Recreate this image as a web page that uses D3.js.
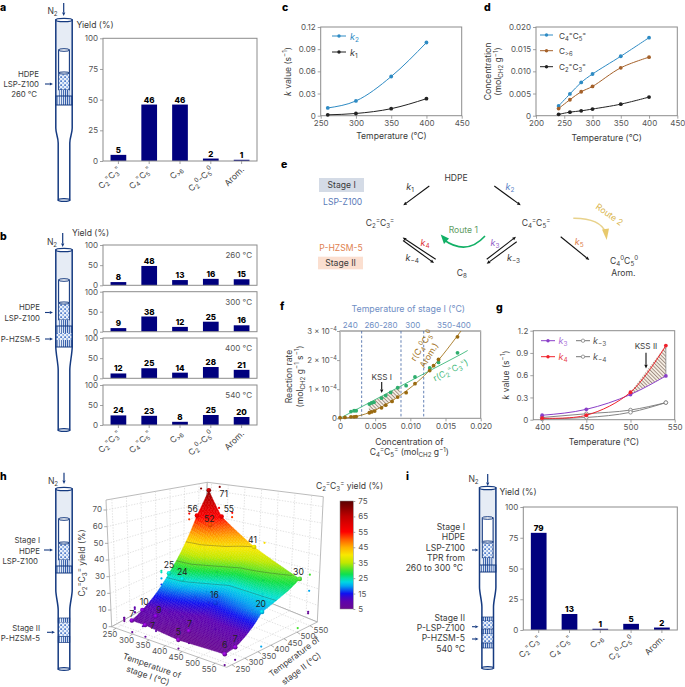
<!DOCTYPE html>
<html><head><meta charset="utf-8">
<script src="https://cdn.jsdelivr.net/npm/d3@7"></script>
<style>html,body{margin:0;padding:0;background:#fff}svg{display:block}text{font-family:Inter,"Liberation Sans",sans-serif}</style>
</head><body><svg id="c" width="685" height="687" xmlns="http://www.w3.org/2000/svg"></svg>
<script>
// ---------- data ----------
const productLabels=["C_{2}^{=}C_{3}^{=}","C_{4}^{=}C_{5}^{=}","C_{>6}","C_{2}^{0}-C_{5}^{0}","Arom."];
const yieldA=[5,46,46,2,1];
const yieldB260=[8,48,13,16,15];
const yieldB300=[9,38,12,25,16];
const yieldB400=[12,25,14,28,21];
const yieldB540=[24,23,8,25,20];
const yieldI=[79,13,1,5,2];
const tempsC=[260,300,350,400];
const k1C=[0.0012,0.003,0.0095,0.023];
const k2C=[0.0105,0.020,0.053,0.099];
const tempsD=[240,260,280,300,350,400];
const concC4C5=[0.0022,0.0049,0.0075,0.0094,0.0134,0.0176];
const concC6=[0.0016,0.0036,0.0054,0.0066,0.0108,0.0132];
const concC2C3=[0.0003,0.0008,0.0011,0.0015,0.0026,0.0042];
const fX=[0.00156,0.002,0.0023,0.00417,0.0045,0.00483,0.0059,0.0065,0.0072,0.0082,0.0094,0.01066,0.01275,0.014,0.0167];
const fGreen=[0.23,0.26,0.26,0.49,0.53,0.55,0.69,0.78,0.89,1.05,1.12,1.42,1.73,1.92,2.25];
const fBrownX=[0,0.0007,0.00156,0.002,0.0023,0.00417,0.0045,0.00493,0.0059,0.0065,0.0074,0.0082,0.0094,0.01066,0.01275,0.0133,0.014,0.0167];
const fBrown=[0.02,0.03,0.05,0.05,0.06,0.19,0.22,0.25,0.36,0.45,0.58,0.73,0.88,1.19,1.64,1.81,2.02,2.8];
const fitX=[0,0.002,0.0042,0.006,0.0085,0.012,0.0172];
const fitBrown=[0,0.05,0.2,0.4,0.78,1.47,3.0];
const fitGreen=[0,0.26,0.54,0.77,1.09,1.54,2.2];
const stageBoundaries=[0.00308,0.00867,0.0119];
const tempsG=[400,450,500,540];
const k3G=[0.06,0.14,0.34,0.59];
const k4G=[0.02,0.06,0.37,1.0];
const km3G=[0.03,0.08,0.13,0.23];
const km4G=[0.01,0.03,0.10,0.23];
const stage1Temps=[260,300,400,540];
const stage2Temps=[260,300,400,500,540];
const surfaceRows=[[7,7,5,6],[10,9,7,7],[25,24,16,20],[56,52,33,26],[71,55,41,30]];
const pointI=[260,300,400,540,260,300,400,540,260,300,400,540,260,300,260,300,400,540];
const pointII=[260,260,260,260,300,300,300,300,400,400,400,400,500,500,540,540,540,540];
const pointY=[7,7,5,6,10,9,7,7,25,24,16,20,56,52,71,55,41,30];
const labelDX=[0,7.7,0,0,1.7,3.3,.7,0,0,0,-1,-1.3,-4.3,-1,15,7.3,-1.7,-1.3];
const labelDY=[-6,1.3,-8,-9,-7.7,-6.7,-7.3,-8.3,-8.3,-7.3,-7.7,-7.7,-6.3,-6,3.7,-7.7,-6.7,-7];

// ---------- helpers ----------
const NAVY="#00007e",TUBE="#153a80",INK="#3a3a3a",SPINE="#8c8c8c",BASE=8.6,SIDE=7.8;
const svg=d3.select("#c");
const defs=svg.append("defs");
const pd=defs.append("pattern").attr("id","dots").attr("width",4).attr("height",4).attr("patternUnits","userSpaceOnUse");
pd.append("rect").attr("width",4).attr("height",4).attr("fill","#eaf0fa");
pd.append("circle").attr("cx",1.1).attr("cy",1.1).attr("r",.95).attr("fill","#2c62c0");
pd.append("circle").attr("cx",3.1).attr("cy",3).attr("r",.8).attr("fill","#3f78d0");
const ps=defs.append("pattern").attr("id","stripes").attr("width",2.1).attr("height",4).attr("patternUnits","userSpaceOnUse");
ps.append("rect").attr("width",2.1).attr("height",4).attr("fill","#e8eff9");
ps.append("rect").attr("width",.9).attr("height",4).attr("fill","#2a55a5");
const ph=defs.append("pattern").attr("id","hatch").attr("width",2.6).attr("height",2.6).attr("patternUnits","userSpaceOnUse").attr("patternTransform","rotate(-45)");
ph.append("rect").attr("width",2.6).attr("height",2.6).attr("fill","#f4ece2");
ph.append("rect").attr("width",.8).attr("height",2.6).attr("fill","#958378");

function rich(t,str,fs){
  const re=/(_\{[^}]*\}|\^\{[^}]*\}|\*[^*]*\*)/;
  let off=0;
  str.split(re).filter(s=>s!=="").forEach(s=>{
    const ts=t.append("tspan");
    let tgt=0,body=s;
    if(s.startsWith("_{")){tgt=fs*.25;body=s.slice(2,-1);ts.attr("font-size",fs*.72);}
    else if(s.startsWith("^{")){tgt=-fs*.38;body=s.slice(2,-1);ts.attr("font-size",fs*.72);}
    else if(s.startsWith("*")){body=s.slice(1,-1);ts.attr("font-style","italic");}
    ts.attr("dy",tgt-off);off=tgt;ts.text(body);
  });
}
function txt(x,y,str,o={}){
  const fs=o.size||BASE;
  const t=svg.append("text").attr("x",0).attr("y",0).attr("font-size",fs)
   .attr("text-anchor",o.anchor||"middle").attr("fill",o.fill||INK)
   .attr("font-weight",o.weight||400)
   .attr("transform",`translate(${x},${y})`+(o.rot?` rotate(${o.rot})`:""));
  rich(t,str,fs);return t;
}
function arrow(x1,y1,x2,y2,col=INK,w=1.1,h=3.6){
  const a=Math.atan2(y2-y1,x2-x1),bx=x2-h*Math.cos(a),by=y2-h*Math.sin(a);
  svg.append("line").attr("x1",x1).attr("y1",y1).attr("x2",bx).attr("y2",by).attr("stroke",col).attr("stroke-width",w);
  const p=(r,an)=>[x2-r*Math.cos(a+an),y2-r*Math.sin(a+an)];
  svg.append("polygon").attr("points",[[x2,y2],p(h*1.1,.42),p(h*1.1,-.42)].join(" ")).attr("fill",col);
}
function styleAxis(g,col="#555"){
  g.select(".domain").remove();
  g.selectAll(".tick line").attr("stroke",SPINE).attr("stroke-width",.8);
  g.selectAll(".tick text").attr("fill",col).attr("font-size",8).attr("font-family","Inter");
}
function frame(x0,x1,yt,yb,w=1){
  svg.append("rect").attr("x",x0).attr("y",yt).attr("width",x1-x0).attr("height",yb-yt)
   .attr("fill","none").attr("stroke",SPINE).attr("stroke-width",w);
}
function letter(s,x,y){txt(x,y,s,{size:10.5,weight:800,anchor:"start",fill:"#000"});}

function tube(o){
  const g=svg.append("g");
  const cx=o.cx,W=o.W||8.2,N=o.N||5.8,IW=5.4;
  const path=d3.path();
  path.moveTo(cx-W,o.top);path.lineTo(cx-W,o.neckA);
  path.bezierCurveTo(cx-W,o.neckA+6,cx-N,o.neckB-6,cx-N,o.neckB);
  path.lineTo(cx-N,o.bottom);path.lineTo(cx+N,o.bottom);path.lineTo(cx+N,o.neckB);
  path.bezierCurveTo(cx+N,o.neckB-6,cx+W,o.neckA+6,cx+W,o.neckA);
  path.lineTo(cx+W,o.top);path.closePath();
  g.append("path").attr("d",path.toString()).attr("fill","#fff");
  g.append("rect").attr("x",cx-W).attr("y",o.top).attr("width",2*W).attr("height",o.fritBot-o.top).attr("fill","#e6ecf5");
  g.append("rect").attr("x",cx-IW).attr("y",o.innerTop).attr("width",2*IW).attr("height",o.catTop-o.innerTop).attr("fill","#fff").attr("stroke",TUBE).attr("stroke-width",1.1);
  g.append("ellipse").attr("cx",cx).attr("cy",o.innerTop).attr("rx",IW).attr("ry",1.3).attr("fill","#fff").attr("stroke",TUBE).attr("stroke-width",1);
  g.append("rect").attr("x",cx-IW).attr("y",o.catTop).attr("width",2*IW).attr("height",o.catBot-o.catTop).attr("fill","url(#dots)").attr("stroke",TUBE).attr("stroke-width",.9);
  g.append("ellipse").attr("cx",cx).attr("cy",o.catTop).attr("rx",IW).attr("ry",1.1).attr("fill","#e6ecf5").attr("stroke",TUBE).attr("stroke-width",.9);
  g.append("rect").attr("x",cx-IW).attr("y",o.catBot).attr("width",2*IW).attr("height",o.ringTop-o.catBot).attr("fill","url(#stripes)");
  g.append("rect").attr("x",cx-W).attr("y",o.ringTop).attr("width",2*W).attr("height",o.fritBot-o.ringTop).attr("fill","url(#stripes)").attr("stroke",TUBE).attr("stroke-width",1);
  (o.beds||[]).forEach(b=>{
    const hw=b.hw||W;
    g.append("rect").attr("x",cx-hw).attr("y",b.y).attr("width",2*hw).attr("height",b.h).attr("fill",`url(#${b.k==="d"?"dots":"stripes"})`).attr("stroke",b.k==="d"?"none":TUBE).attr("stroke-width",.7);
  });
  g.append("path").attr("d",path.toString()).attr("fill","none").attr("stroke",TUBE).attr("stroke-width",1.5);
  g.append("ellipse").attr("cx",cx).attr("cy",o.top).attr("rx",W).attr("ry",1.7).attr("fill","#fff").attr("stroke",TUBE).attr("stroke-width",1.3);
  g.append("ellipse").attr("cx",cx).attr("cy",o.bottom).attr("rx",N).attr("ry",1.4).attr("fill","#e6ecf5").attr("stroke",TUBE).attr("stroke-width",1.2);
}
function leftArrow(x1,x2,y){arrow(x1,y,x2,y,TUBE,1.1,3.2);}

function bars(values,x0,x1,yt,yb,showCats,yTicks,labSize){
  const b=d3.scaleBand().domain(d3.range(values.length)).range([x0,x1]).paddingInner(.49).paddingOuter(.245);
  const y=d3.scaleLinear().domain([0,100]).range([yb,yt]);
  svg.append("g").selectAll("rect").data(values).join("rect").attr("x",(d,i)=>b(i)).attr("y",d=>y(d)).attr("width",b.bandwidth()).attr("height",d=>yb-y(d)).attr("fill",NAVY);
  svg.append("g").selectAll("text").data(values).join("text").attr("x",(d,i)=>b(i)+b.bandwidth()/2).attr("y",d=>y(d)-2).attr("text-anchor","middle").attr("font-size",labSize||8).attr("font-weight",800).attr("fill","#000").text(d=>d);
  frame(x0,x1,yt,yb);
  const ax=svg.append("g").attr("transform",`translate(${x0},0)`).call(d3.axisLeft(y).tickValues(yTicks).tickSize(3).tickPadding(2));
  styleAxis(ax);ax.selectAll(".tick text").attr("font-size",8);
  if(showCats){
    const bx=svg.append("g").attr("transform",`translate(0,${yb})`).call(d3.axisBottom(b).tickFormat("").tickSize(3));
    styleAxis(bx);
    productLabels.forEach((s,i)=>txt(b(i)+b.bandwidth()/2+3,yb+9,s,{size:8.4,anchor:"end",rot:-45}));
  }
}
function lineChart(o){
  const x=d3.scaleLinear().domain(o.xd).range(o.xr),y=d3.scaleLinear().domain(o.yd).range(o.yr);
  frame(o.xr[0],o.xr[1],o.yr[1],o.yr[0]);
  const ax=svg.append("g").attr("transform",`translate(0,${o.yr[0]})`).call(d3.axisBottom(x).tickValues(o.xt).tickSize(3).tickPadding(2).tickFormat(o.xf||(d=>d)));
  styleAxis(ax);
  const ay=svg.append("g").attr("transform",`translate(${o.xr[0]},0)`).call(d3.axisLeft(y).tickValues(o.yt).tickSize(3).tickPadding(2).tickFormat(o.yf||(d=>d)));
  styleAxis(ay);
  return {x,y};
}
function series(x,y,xs,ys,col,curve,sym="circle",r=1.9,w=1){
  const l=d3.line().x((d,i)=>x(xs[i])).y(d=>y(d)).curve(curve);
  svg.append("path").attr("d",l(ys)).attr("fill","none").attr("stroke",col).attr("stroke-width",w);
  svg.append("g").selectAll("circle").data(ys).join("circle").attr("cx",(d,i)=>x(xs[i])).attr("cy",d=>y(d)).attr("r",r).attr("fill",sym==="open"?"#fff":col).attr("stroke",sym==="open"?col:"none").attr("stroke-width",.8);
}
function legendItem(x1,x2,y,col,open){
  svg.append("line").attr("x1",x1).attr("x2",x2).attr("y1",y).attr("y2",y).attr("stroke",col).attr("stroke-width",1);
  svg.append("circle").attr("cx",(x1+x2)/2).attr("cy",y).attr("r",1.7).attr("fill",open?"#fff":col).attr("stroke",open?col:"none").attr("stroke-width",.7);
}

// ---------- panel a ----------
letter("a",0,10.5);
tube({cx:64,top:20,neckA:128,neckB:143,bottom:200,innerTop:50,catTop:73,catBot:90,ringTop:96,fritBot:105});
txt(52.5,14,"N_{2}",{});arrow(63.7,3,63.7,16,TUBE,1.2,3.6);
txt(39,76.5,"HDPE",{anchor:"end",size:SIDE});txt(39,87,"LSP-Z100",{anchor:"end",size:SIDE});txt(37,97,"260 °C",{anchor:"end",size:SIDE});leftArrow(45,53,84);
txt(95,28,"Yield (%)");
bars(yieldA,103,257,38.3,161,true,[0,25,50,75,100]);

// ---------- panel b ----------
letter("b",0,240);
tube({cx:64,top:250,neckA:347,neckB:370,bottom:430,innerTop:280,catTop:303,catBot:320,ringTop:326,fritBot:347,
 beds:[{y:333,h:7,k:"d"}]});
txt(52,245,"N_{2}");arrow(62.7,233,62.7,247,TUBE,1.2,3.6);
txt(90.5,236,"Yield (%)");
txt(40,310,"HDPE",{anchor:"end",size:SIDE});txt(40,321,"LSP-Z100",{anchor:"end",size:SIDE});txt(40,342,"P-HZSM-5",{anchor:"end",size:SIDE});
leftArrow(45,53,312.5);leftArrow(45,53,339);
[[yieldB260,245,285.3,"260 °C"],[yieldB300,291.7,331.7,"300 °C"],[yieldB400,338,378.3,"400 °C"],[yieldB540,385,425,"540 °C"]].forEach((r,i)=>{
  bars(r[0],103,257,r[1],r[2],i===3,[0,50,100]);
  txt(252,r[1]+13,r[3],{anchor:"end",size:8,fill:"#555"});
});

// ---------- panel c ----------
letter("c",282,10.5);
{
 const {x,y}=lineChart({xd:[250,450],xr:[320.7,461.7],yd:[0,.12],yr:[115.7,27],xt:[250,300,350,400,450],yt:[0,.03,.06,.09,.12],yf:d=>d===0?"0":d3.format(".2f")(d)});
 series(x,y,tempsC,k2C,"#2e8bc4",d3.curveMonotoneX);
 series(x,y,tempsC,k1C,"#222",d3.curveMonotoneX);
 legendItem(332,346,36,"#2e8bc4");txt(350,40,"*k*_{2}",{anchor:"start",fill:"#2e8bc4",size:9});
 legendItem(332,346,52,"#222");txt(350,56,"*k*_{1}",{anchor:"start",size:9});
 txt(391.5,139,"Temperature (°C)");
 txt(290.5,71.5,"*k* value (s^{−1})",{rot:-90});
}
// ---------- panel d ----------
letter("d",484,10.5);
{
 const {x,y}=lineChart({xd:[200,450],xr:[536,677.3],yd:[0,.02],yr:[115.7,27],xt:[200,250,300,350,400,450],yt:[0,.005,.01,.015,.02],yf:d=>d===0?"0":d3.format(".3f")(d)});
 series(x,y,tempsD,concC4C5,"#2e8bc4",d3.curveCatmullRom);
 series(x,y,tempsD,concC6,"#a5612a",d3.curveCatmullRom);
 series(x,y,tempsD,concC2C3,"#222",d3.curveCatmullRom);
 legendItem(540,553,35,"#2e8bc4");txt(559,39,"C_{4}^{=}C_{5}^{=}",{anchor:"start",size:8.2});
 legendItem(540,553,50.7,"#a5612a");txt(559,54,"C_{>6}",{anchor:"start",size:8.2});
 legendItem(540,553,66.7,"#222");txt(559,70,"C_{2}^{=}C_{3}^{=}",{anchor:"start",size:8.2});
 txt(606.7,141,"Temperature (°C)");
 txt(491,71.5,"Concentration",{rot:-90});
 txt(501,71.5,"(mol_{CH2} g^{−1})",{rot:-90});
}
// ---------- panel e ----------
letter("e",281,168);
svg.append("rect").attr("x",319).attr("y",178).attr("width",45).attr("height",14).attr("fill","#d4dbe6");
txt(341.7,188,"Stage I");
txt(342.7,204.5,"LSP-Z100",{fill:"#5a7ab8"});
txt(341,251,"P-HZSM-5",{fill:"#e0824f"});
svg.append("rect").attr("x",318).attr("y",256.7).attr("width",45).attr("height",12.6).attr("fill","#fbdfd0");
txt(340.5,266,"Stage II");
txt(456,181,"HDPE");
txt(380,226,"C_{2}^{=}C_{3}^{=}");
txt(536,226,"C_{4}^{=}C_{5}^{=}");
txt(461.7,276,"C_{8}");
txt(624,263.5,"C_{4}^{0}C_{5}^{0}");txt(623.3,276,"Arom.");
arrow(429.3,186,403.3,205.3,"#111",1.1);
arrow(494.3,186,520.7,205.3,"#111",1.1);
arrow(435.7,259.3,402.7,237.6,"#111",1.1);
arrow(403,240.5,434,263,"#111",1.1);
arrow(486.7,259.3,516,236.7,"#111",1.1);
arrow(516.7,241.7,486.7,263.8,"#111",1.1);
arrow(560.7,236.7,589.3,260,"#111",1.1);
txt(410,190,"*k*_{1}",{size:9});txt(510,190,"*k*_{2}",{size:9,fill:"#5b83c6"});
txt(425,246,"*k*_{4}",{size:9,fill:"#e0353a"});txt(412.3,261,"*k*_{−4}",{size:9});
txt(495,245.5,"*k*_{3}",{size:9,fill:"#9460c8"});txt(513.5,261,"*k*_{−3}",{size:9});
txt(579.3,244.5,"*k*_{5}",{size:9,fill:"#e0824f"});
txt(463.3,233,"Route 1",{fill:"#5f9c62"});
svg.append("path").attr("d","M485,236 Q467,256 444,240").attr("fill","none").attr("stroke","#12b066").attr("stroke-width",1.6);
svg.append("polygon").attr("points","440.7,234.5 449,238.5 444,244").attr("fill","#12b066");
svg.append("path").attr("d","M573.3,218.3 Q600,218 606,233").attr("fill","none").attr("stroke","#e8d28c").attr("stroke-width",1.4);
svg.append("polygon").attr("points","606.7,240 602,229.5 609,228.5").attr("fill","#e8c96c");
txt(607.7,217,"Route 2",{fill:"#d9b44a",rot:35});

// ---------- panel f ----------
letter("f",280,310);
{
 const {x,y}=lineChart({xd:[0,.02],xr:[340,480.7],yd:[0,3],yr:[418.3,331],xt:[0,.005,.01,.015,.02],yt:[0,1,2,3],xf:d=>d===0?"0":d3.format(".3f")(d),yf:()=>""});
 svg.append("line").attr("x1",340).attr("x2",480.7).attr("y1",331).attr("y2",331).attr("stroke","#b8b8b8").attr("stroke-width",1.8);
 [0,1,2,3].forEach(v=>txt(337,y(v)+2.8,v===0?"0":`${v} × 10^{−4}`,{anchor:"end",size:7.8,fill:"#555"}));
 const ba=d3.area().x((d,i)=>x(fitX[i])).y0(d=>y(d)).y1((d,i)=>y(fitGreen[i])).curve(d3.curveMonotoneX);
 defs.append("clipPath").attr("id","fclip").append("rect").attr("x",x(.0041)).attr("width",x(.0085)-x(.0041)).attr("y",331).attr("height",90);
 svg.append("path").attr("d",ba(fitBrown)).attr("fill","url(#hatch)").attr("clip-path","url(#fclip)");
 stageBoundaries.forEach(v=>svg.append("line").attr("x1",x(v)).attr("x2",x(v)).attr("y1",331).attr("y2",418.3).attr("stroke","#5273ad").attr("stroke-width",.9).attr("stroke-dasharray","2.6,2"));
 const lg=d3.line().x((d,i)=>x(fitX[i])).y(d=>y(d)).curve(d3.curveMonotoneX);
 svg.append("path").attr("d",lg(fitGreen)).attr("fill","none").attr("stroke","#3db87a").attr("stroke-width",.9);
 svg.append("line").attr("x1",x(.0172)).attr("y1",y(2.2)).attr("x2",x(.01815)).attr("y2",y(2.33)).attr("stroke","#3db87a").attr("stroke-width",.9);
 svg.append("path").attr("d",lg(fitBrown)).attr("fill","none").attr("stroke","#a5761f").attr("stroke-width",.9);
 svg.append("g").selectAll("circle").data(fGreen).join("circle").attr("cx",(d,i)=>x(fX[i])).attr("cy",d=>y(d)).attr("r",1.9).attr("fill","#2fae6e");
 svg.append("g").selectAll("circle").data(fBrown).join("circle").attr("cx",(d,i)=>x(fBrownX[i])).attr("cy",d=>y(d)).attr("r",1.9).attr("fill","#9a6a10");
 const blue="#6f8ec4";
 txt(408.3,312,"Temperature of stage I  (°C)",{fill:blue,size:8.8});
 txt(350.3,328,"240",{fill:blue,size:8});txt(381,328,"260-280",{fill:blue,size:8});txt(412.7,328,"300",{fill:blue,size:8});txt(454,328,"350-400",{fill:blue,size:8});
 txt(381.7,379.5,"KSS I",{size:8.2});arrow(381.7,382,381.7,393,"#111",1.1,3.6);
 txt(424.5,347,"r(C_{4}^{0}C_{5}^{0}",{fill:"#a5761f",size:8.6,rot:-58});
 txt(431.5,357,"Arom.)",{fill:"#a5761f",size:8.6,rot:-58});
 txt(452,373,"r(C_{2}^{=}C_{3}^{=})",{fill:"#3db87a",size:8.6,rot:-27});
 txt(292,376.5,"Reaction rate",{rot:-90});
 txt(302.5,376.5,"(mol_{CH2} g^{−1} s^{−1})",{rot:-90});
 txt(409.3,444.5,"Concentration of");
 txt(409.3,455,"C_{4}^{=}C_{5}^{=} (mol_{CH2} g^{−1})");
}
// ---------- panel g ----------
letter("g",496,311);
{
 const {x,y}=lineChart({xd:[390,550],xr:[533.3,674.7],yd:[0,1.2],yr:[419.7,330.7],xt:[400,450,500,550],yt:[0,.3,.6,.9,1.2],yf:d=>d===0?"0":d3.format(".1f")(d)});
 const ar=d3.area().x((d,i)=>x(tempsG[i+2])).y0(d=>y(d)).y1((d,i)=>y(k3G[i+2]));
 svg.append("path").attr("d",ar(k4G.slice(2))).attr("fill","url(#hatch)");
 svg.append("line").attr("x1",x(540)).attr("x2",x(540)).attr("y1",y(.59)).attr("y2",y(1)).attr("stroke","#777").attr("stroke-width",.7);
 series(x,y,tempsG,km3G,"#777",d3.curveMonotoneX,"open",1.8,.9);
 series(x,y,tempsG,km4G,"#777",d3.curveMonotoneX,"open",1.8,.9);
 series(x,y,tempsG,k3G,"#8a3fc8",d3.curveMonotoneX);
 series(x,y,tempsG,k4G,"#f0222c",d3.curveCatmullRom);
 legendItem(541,555,340.7,"#8a3fc8");txt(558.5,344,"*k*_{3}",{anchor:"start",fill:"#a86fd8",size:9});
 legendItem(541,555,356.7,"#f0222c");txt(558.5,360,"*k*_{4}",{anchor:"start",fill:"#e8454c",size:9});
 legendItem(576,590,340.7,"#777",true);txt(593,344,"*k*_{−3}",{anchor:"start",size:9,fill:"#555"});
 legendItem(576,590,356.7,"#777",true);txt(593,360,"*k*_{−4}",{anchor:"start",size:9,fill:"#555"});
 txt(646,348.5,"KSS II",{size:8.2});arrow(646,352.7,646,368.5,"#111",1.1,3.8);
 txt(604,445,"Temperature (°C)");
 txt(508.5,375,"*k* value (s^{−1})",{rot:-90});
}
// ---------- panel h ----------
letter("h",0,480);
tube({cx:64,top:489,neckA:590,neckB:610,bottom:669,innerTop:519,catTop:543,catBot:560,ringTop:566,fritBot:573,
 beds:[{y:618,h:4.5,hw:5.8},{y:622.5,h:14,k:"d",hw:5.8},{y:636.5,h:6,hw:5.8}]});
txt(53,484,"N_{2}");arrow(64,472.7,64,484,TUBE,1.2,3.6);
txt(40,543,"Stage I",{anchor:"end",size:SIDE});txt(40,553.5,"HDPE",{anchor:"end",size:SIDE});txt(38,563.5,"LSP-Z100",{anchor:"end",size:SIDE});leftArrow(44,53,550);
txt(40,630.5,"Stage II",{anchor:"end",size:SIDE});txt(40,641,"P-HZSM-5",{anchor:"end",size:SIDE});leftArrow(47,55,632.3);
{
 const C={L:[111.7,626.7],F:[226.7,667.3],R:[317.3,622],B:[204,576],TL:[106,500],TF:[228.3,525],TR:[323.3,496.7],TB:[207.3,482.3]};
 const sI=d3.scaleLinear().domain([237,585]).range([0,1]);
 const sII=d3.scaleLinear().domain([230,578]).range([0,1]);
 const sZ=d3.scaleLinear().domain([0,76]).range([0,1]);
 const mix=(a,b,t)=>[a[0]+(b[0]-a[0])*t,a[1]+(b[1]-a[1])*t];
 const projWith=(Q)=>(i,ii,z)=>{
  const u=sI(i),v=sII(ii),w=sZ(z);
  const floor=mix(mix(Q.L,Q.F,u),mix(Q.B,Q.R,u),v);
  const top=mix(mix(Q.TL,Q.TF,u),mix(Q.TB,Q.TR,u),v);
  return mix(floor,top,w);
 };
 const proj=projWith(C);
 // marks sit slightly inside the drawn box, as in the perspective view of the original
 const markShift=p=>[p[0]+5,p[1]+7];
 const projBase=projWith({...C,TB:[C.TB[0],C.TB[1]-11]});
 const projM=(i,ii,z)=>markShift(projBase(i,ii,z));
 const Imin=sI.domain()[0],Imax=sI.domain()[1],IImin=sII.domain()[0],IImax=sII.domain()[1],Zmax=76;
 const poly=(pts,fill,stroke)=>svg.append("polygon").attr("points",pts.join(" ")).attr("fill",fill).attr("stroke",stroke).attr("stroke-width",.8);
 poly([C.L,C.B,C.TB,C.TL],"#fff","#aaa");poly([C.B,C.R,C.TR,C.TB],"#fff","#aaa");poly([C.L,C.F,C.R,C.B],"#fff","#aaa");
 const gridLine=(a,b)=>svg.append("line").attr("x1",a[0]).attr("y1",a[1]).attr("x2",b[0]).attr("y2",b[1]).attr("stroke","#cfcfcf").attr("stroke-width",.6).attr("stroke-dasharray","1.4,1.4");
 const tI=d3.range(250,551,50),tII=d3.range(250,551,50),tZ=d3.range(10,71,10);
 tI.forEach(t=>{gridLine(proj(t,IImin,0),proj(t,IImax,0));gridLine(proj(t,IImax,0),proj(t,IImax,Zmax));});
 tII.forEach(t=>{gridLine(proj(Imin,t,0),proj(Imax,t,0));gridLine(proj(Imin,t,0),proj(Imin,t,Zmax));});
 tZ.forEach(t=>{gridLine(proj(Imin,IImin,t),proj(Imin,IImax,t));gridLine(proj(Imin,IImax,t),proj(Imax,IImax,t));});
 // colour map
 const cmap=d3.scaleLinear().domain([5,11,15,20,23,28,35,40,45,50,55,65,75])
  .range(["#6a0a8e","#5a00b4","#1010f0","#00a8f0","#00e0e0","#10e040","#c0e800","#f8e800","#ffb000","#ff6000","#ff0000","#c00000","#5a0000"]).clamp(true);
 // projections on floor and walls
 const dots=svg.append("g");
 pointY.forEach((z,k)=>{
  const c=cmap(z);
  [projM(pointI[k],pointII[k],0),projM(Imin,pointII[k],z),projM(pointI[k],IImax,z)].forEach(p=>{
    dots.append("circle").attr("cx",p[0]).attr("cy",p[1]).attr("r",1.1).attr("fill",c);
  });
 });
 // surface: piecewise interpolation of the read grid
 const lookup=(arr,v)=>{let j=Math.min(d3.bisectRight(arr,v)-1,arr.length-2);j=Math.max(j,0);return [j,(v-arr[j])/(arr[j+1]-arr[j])];};
 const height=(i,ii)=>{
  const [a,t]=lookup(stage1Temps,i),[b,s]=lookup(stage2Temps,ii);
  const L=(r,c)=>Math.log(surfaceRows[r][c]);
  return Math.exp((1-s)*((1-t)*L(b,a)+t*L(b,a+1))+s*((1-t)*L(b+1,a)+t*L(b+1,a+1)));
 };
 const surf=svg.append("g");
 const iS=d3.range(260,540.01,5),iiS=d3.range(540,259.99,-5);
 iiS.slice(0,-1).forEach((ii,r)=>{
  const ii2=iiS[r+1];
  iS.slice(0,-1).forEach((i,q)=>{
   const i2=iS[q+1],z=(height(i,ii)+height(i2,ii)+height(i,ii2)+height(i2,ii2))/4;
   const col=cmap(z);
   surf.append("polygon").attr("points",[projM(i,ii,height(i,ii)),projM(i2,ii,height(i2,ii)),projM(i2,ii2,height(i2,ii2)),projM(i,ii2,height(i,ii2))].join(" ")).attr("fill",col).attr("stroke",col).attr("stroke-width",.35);
  });
 });
 // contour lines
 const iso=d3.line().x(d=>d[0]).y(d=>d[1]).curve(d3.curveLinear);
 [23,31,41].forEach(level=>{
  const pts=[];
  d3.range(260,540.01,10).forEach(i=>{
   if(height(i,540)<level||height(i,260)>level)return;
   let lo=260,hi=540;
   d3.range(18).forEach(()=>{const m=(lo+hi)/2;if(height(i,m)<level)lo=m;else hi=m;});
   pts.push(projM(i,lo,level));
  });
  svg.append("path").attr("d",iso(pts)).attr("fill","none").attr("stroke","#333").attr("stroke-opacity",.55).attr("stroke-width",.6);
 });
 // points and labels
 pointY.forEach((z,k)=>{
  const p=projM(pointI[k],pointII[k],z),c=d3.color(cmap(z));
  const id="sph"+k;
  const rg=defs.append("radialGradient").attr("id",id).attr("cx","40%").attr("cy","35%").attr("r","70%");
  rg.append("stop").attr("offset","0%").attr("stop-color",c.brighter(1.6));
  rg.append("stop").attr("offset","100%").attr("stop-color",c.darker(.6));
  svg.append("circle").attr("cx",p[0]).attr("cy",p[1]).attr("r",2.3).attr("fill",`url(#${id})`);
  txt(p[0]+labelDX[k],p[1]+labelDY[k]+3,String(z),{size:8.6,fill:"#222"});
 });
 // axes
 tI.forEach(t=>{const p=proj(t,IImin,0);svg.append("line").attr("x1",p[0]).attr("y1",p[1]).attr("x2",p[0]-3).attr("y2",p[1]+2).attr("stroke","#888").attr("stroke-width",.7);txt(p[0]-6,p[1]+8.5,String(t),{size:8,fill:"#555"});});
 tII.forEach(t=>{const p=proj(Imax,t,0);svg.append("line").attr("x1",p[0]).attr("y1",p[1]).attr("x2",p[0]+3).attr("y2",p[1]+2).attr("stroke","#888").attr("stroke-width",.7);txt(p[0]+11,p[1]+7,String(t),{size:8,fill:"#555"});});
 d3.range(0,71,10).forEach(t=>{const p=proj(Imin,IImin,t);svg.append("line").attr("x1",p[0]).attr("y1",p[1]).attr("x2",p[0]-3).attr("y2",p[1]).attr("stroke","#888").attr("stroke-width",.7);txt(p[0]-4.5,p[1]+2.4,String(t),{size:8,fill:"#555",anchor:"end"});});
 txt(151,668.5,"Temperature of",{size:8.4,rot:19});txt(147,678.5,"stage I (°C)",{size:8.4,rot:19});
 txt(296,659,"Temperature of",{size:8.4,rot:-37});txt(303,671,"stage II (°C)",{size:8.4,rot:-37});
 txt(85,563,"C_{2}^{=}C_{3}^{=} yield (%)",{size:8.6,rot:-90});
 // colour bar
 const lg=defs.append("linearGradient").attr("id","cb").attr("x1",0).attr("x2",0).attr("y1",1).attr("y2",0);
 const yb=d3.scaleLinear().domain([5,75]).range([609,501]);
 d3.range(5,75.1,2.5).forEach(v=>lg.append("stop").attr("offset",(v-5)/70).attr("stop-color",cmap(v)));
 svg.append("rect").attr("x",340).attr("y",501).attr("width",13.3).attr("height",108).attr("fill","url(#cb)").attr("stroke","#888").attr("stroke-width",.5);
 const cb=svg.append("g").attr("transform","translate(353.3,0)").call(d3.axisRight(yb).tickValues(d3.range(5,76,10)).tickSize(2).tickPadding(3));
 styleAxis(cb);
 txt(349.5,489,"C_{2}^{=}C_{3}^{=} yield (%)",{size:8.6});
}
// ---------- panel i ----------
letter("i",406,480);
tube({cx:487.7,top:488,neckA:587,neckB:607,bottom:668,innerTop:518,catTop:542,catBot:558,ringTop:565,fritBot:572,
 beds:[{y:617,h:4,hw:5.8},{y:621,h:8,k:"d",hw:5.8},{y:629,h:5,hw:5.8},{y:634,h:9,k:"d",hw:5.8},{y:643,h:5,hw:5.8}]});
txt(473.5,482,"N_{2}");arrow(487.7,474,487.7,486,TUBE,1.2,3.6);
[["Stage I",530],["HDPE",540],["LSP-Z100",550.5],["TPR from",561]].forEach(d=>txt(465,d[1],d[0],{anchor:"end"}));
txt(463,571,"260 to 300 °C",{anchor:"end"});
[["Stage II",621],["P-LSP-Z100",631],["P-HZSM-5",641],["540 °C",652]].forEach(d=>txt(465,d[1],d[0],{anchor:"end"}));
leftArrow(472,478.5,550);leftArrow(472,478.5,626.7);leftArrow(472,478.5,639);
txt(518,495,"Yield (%)");
bars(yieldI,523.3,677.3,507,630,true,[0,25,50,75,100]);
</script></body></html>
